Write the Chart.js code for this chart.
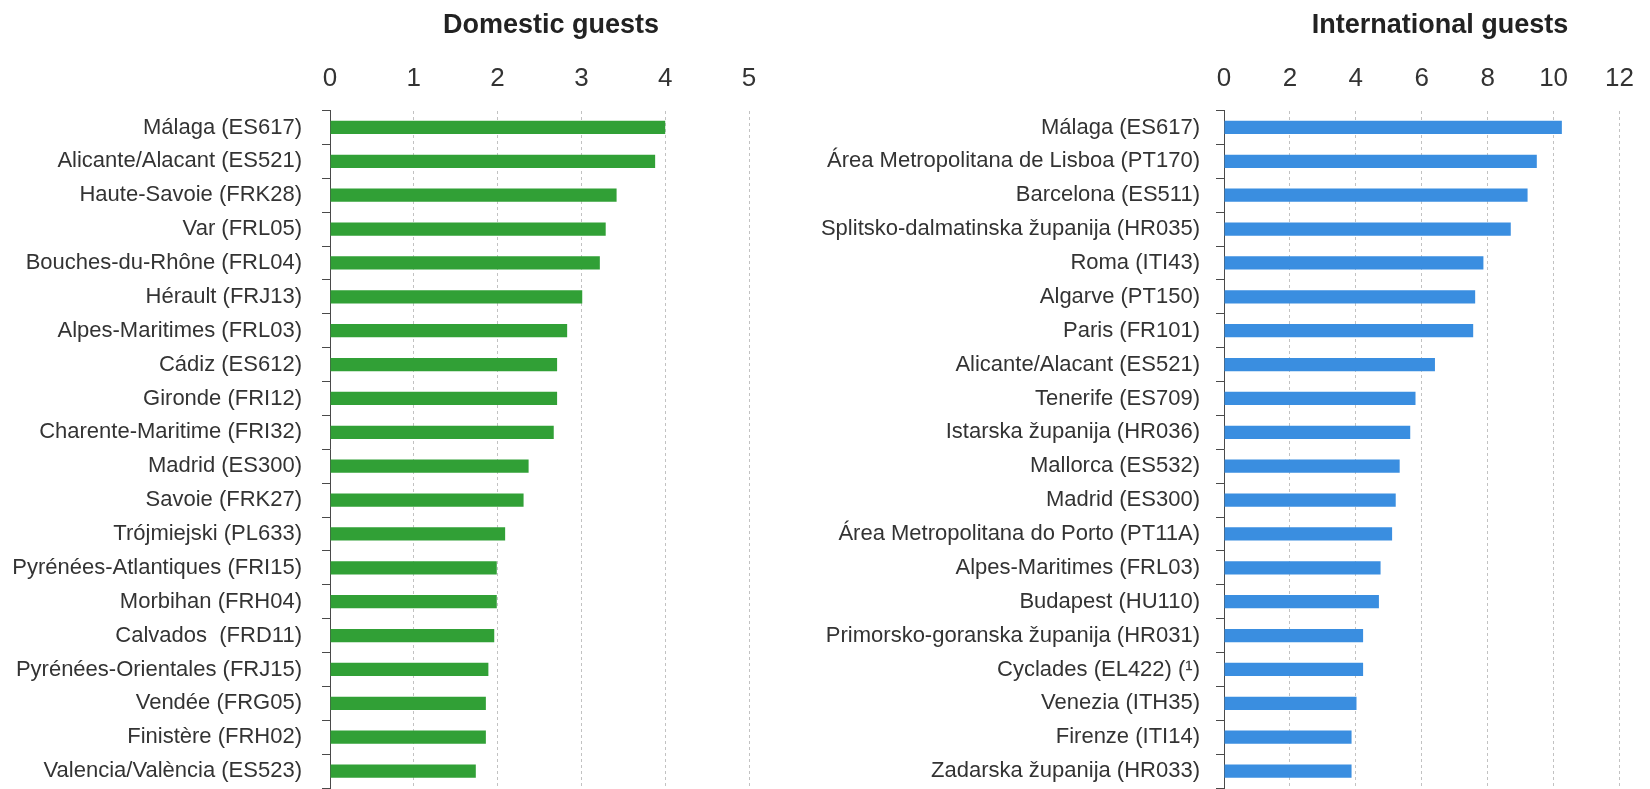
<!DOCTYPE html>
<html>
<head>
<meta charset="utf-8">
<script src="https://cdn.jsdelivr.net/npm/chart.js@4/dist/chart.umd.min.js"></script>
<style>
  html, body { margin: 0; padding: 0; background: #ffffff; overflow: hidden; width: 1650px; height: 789px; }
  .panel { position: absolute; top: 0; height: 789px; }
  .ttl { position: absolute; top: 11px; font: bold 27px "Liberation Sans", Arial, sans-serif; line-height: 27px;
         color: #222; white-space: nowrap; transform: translateX(-50%); }
</style>
</head>
<body>
<div class="panel" style="left:0;width:800px"><canvas id="cDom" width="800" height="789"></canvas></div>
<div class="panel" style="left:800px;width:850px"><canvas id="cInt" width="850" height="789"></canvas></div>
<div class="ttl" id="tDom" style="left:551px"></div>
<div class="ttl" id="tInt" style="left:1440px"></div>
<script>
const titles = ['Domestic guests', 'International guests'];

const domesticCategories = [
  'Málaga (ES617)', 'Alicante/Alacant (ES521)', 'Haute-Savoie (FRK28)', 'Var (FRL05)',
  'Bouches-du-Rhône (FRL04)', 'Hérault (FRJ13)', 'Alpes-Maritimes (FRL03)', 'Cádiz (ES612)',
  'Gironde (FRI12)', 'Charente-Maritime (FRI32)', 'Madrid (ES300)', 'Savoie (FRK27)',
  'Trójmiejski (PL633)', 'Pyrénées-Atlantiques (FRI15)', 'Morbihan (FRH04)', 'Calvados  (FRD11)',
  'Pyrénées-Orientales (FRJ15)', 'Vendée (FRG05)', 'Finistère (FRH02)', 'Valencia/València (ES523)'
];
const domesticValues = [4.00, 3.88, 3.42, 3.29, 3.22, 3.01, 2.83, 2.71, 2.71, 2.67,
                        2.37, 2.31, 2.09, 1.99, 1.99, 1.96, 1.89, 1.86, 1.86, 1.74];
const domesticTicks = [0, 1, 2, 3, 4, 5];

const internationalCategories = [
  'Málaga (ES617)', 'Área Metropolitana de Lisboa (PT170)', 'Barcelona (ES511)',
  'Splitsko-dalmatinska županija (HR035)', 'Roma (ITI43)', 'Algarve (PT150)', 'Paris (FR101)',
  'Alicante/Alacant (ES521)', 'Tenerife (ES709)', 'Istarska županija (HR036)', 'Mallorca (ES532)',
  'Madrid (ES300)', 'Área Metropolitana do Porto (PT11A)', 'Alpes-Maritimes (FRL03)',
  'Budapest (HU110)', 'Primorsko-goranska županija (HR031)', 'Cyclades (EL422) (¹)',
  'Venezia (ITH35)', 'Firenze (ITI14)', 'Zadarska županija (HR033)'
];
const internationalValues = [10.25, 9.49, 9.21, 8.70, 7.87, 7.62, 7.56, 6.40, 5.81, 5.65,
                             5.33, 5.21, 5.10, 4.75, 4.70, 4.22, 4.22, 4.02, 3.87, 3.87];
const internationalTicks = [0, 2, 4, 6, 8, 10, 12];

const FONT = '"Liberation Sans", Arial, sans-serif';
const TEXT = '#333333';

document.getElementById('tDom').textContent = titles[0];
document.getElementById('tInt').textContent = titles[1];

function makeChart(id, labels, values, ticks, color, axisWidth, labelPad, padRight) {
  return new Chart(document.getElementById(id), {
    type: 'bar',
    data: {
      labels: labels,
      datasets: [{
        data: values,
        backgroundColor: color,
        borderWidth: 0,
        barPercentage: 0.39,
        categoryPercentage: 1.0
      }]
    },
    options: {
      indexAxis: 'y',
      responsive: false,
      animation: false,
      devicePixelRatio: 1,
      layout: { padding: { top: 47.3, right: padRight, bottom: 1, left: 0 } },
      plugins: { legend: { display: false }, tooltip: { enabled: false }, title: { display: false } },
      scales: {
        x: {
          position: 'top',
          min: ticks[0],
          max: ticks[ticks.length - 1],
          ticks: {
            stepSize: ticks[1] - ticks[0],
            padding: 16,
            maxRotation: 0,
            color: TEXT,
            font: { family: FONT, size: 26 }
          },
          grid: { color: '#c2c2c2', lineWidth: 1, drawTicks: false },
          border: { display: false, dash: [3, 3] }
        },
        y: {
          afterFit: function (s) { s.width = axisWidth; s.paddingTop = 0; s.paddingBottom = 0; },
          ticks: {
            autoSkip: false,
            padding: labelPad,
            color: TEXT,
            font: { family: FONT, size: 22 }
          },
          grid: { drawOnChartArea: false, offset: true, tickLength: 8, color: '#4a4a4a', lineWidth: 1 },
          border: { display: true, color: '#4a4a4a', width: 1 }
        }
      }
    }
  });
}

makeChart('cDom', domesticCategories, domesticValues, domesticTicks, '#31a036', 330, 20, 51);
makeChart('cInt', internationalCategories, internationalValues, internationalTicks, '#3a8ee0', 424, 16, 17);
</script>
</body>
</html>
